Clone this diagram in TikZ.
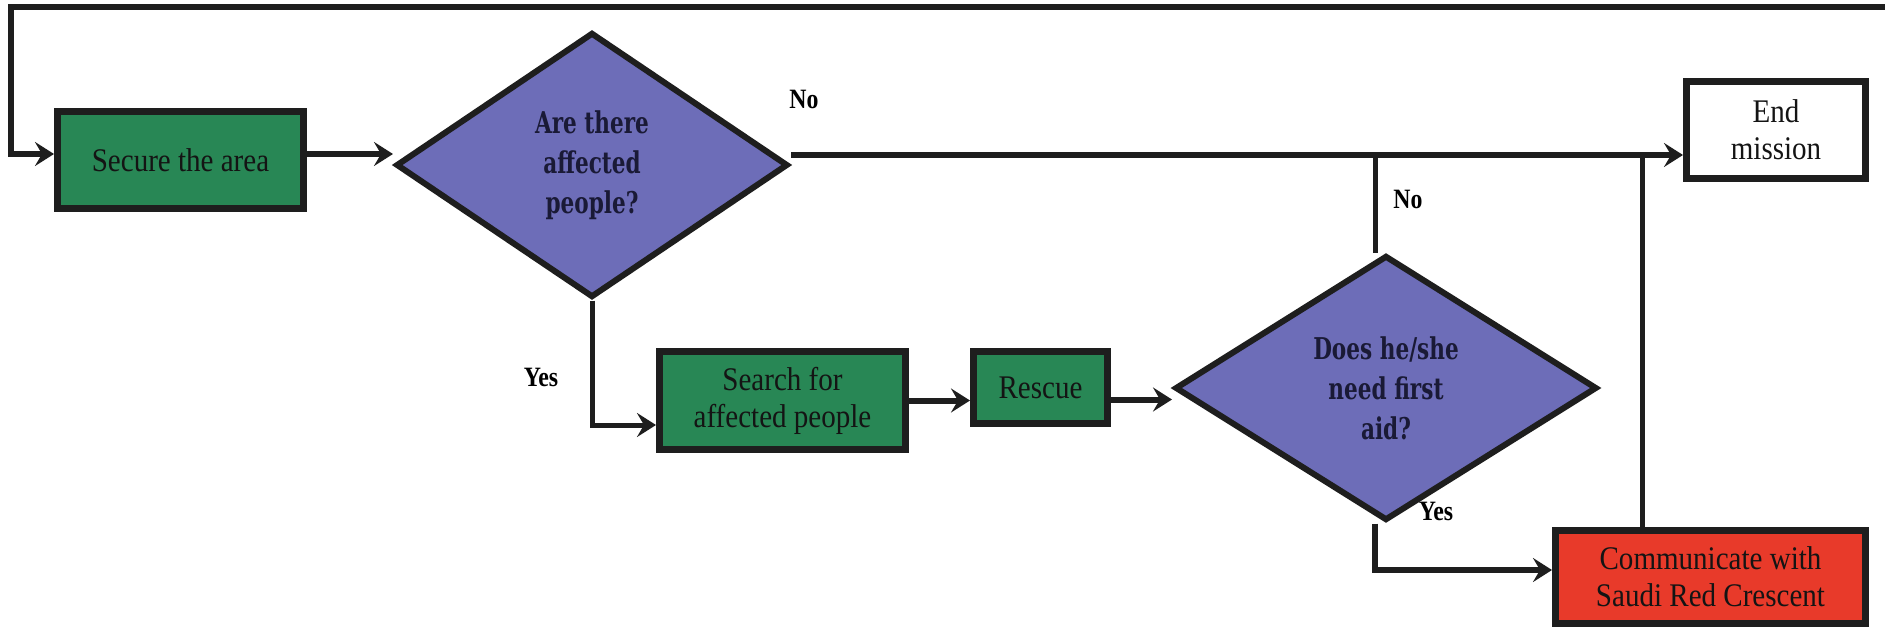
\documentclass[tikz,border=0pt]{standalone}
\usepackage{fontspec}
\setmainfont{Liberation Serif}
\newfontfamily\boxfont{Liberation Serif}[FakeStretch=0.88]
\newfontfamily\qfont{DejaVu Serif}[FakeStretch=0.72]
\newfontfamily\lblfont{Liberation Serif}[FakeStretch=0.85]
\usetikzlibrary{shapes.geometric,arrows.meta,calc}
\definecolor{boxgreen}{HTML}{288755}
\definecolor{dpurple}{HTML}{6D6DB8}
\definecolor{cred}{HTML}{E83A2A}
\definecolor{inkc}{HTML}{141414}
\definecolor{qink}{HTML}{1A1A36}
\definecolor{linec}{HTML}{1E1E1E}
\tikzset{
  procbox/.style={draw=linec, line width=7pt, fill=boxgreen, align=center, inner sep=0pt,
    font={\boxfont\fontsize{33}{37}\selectfont}, text=inkc},
  decision/.style={diamond, draw=linec, line width=6pt, fill=dpurple, align=center, inner sep=0pt,
    font={\qfont\bfseries\fontsize{30}{40}\selectfont}, text=qink},
  flow/.style={line width=6pt, draw=linec, -{Stealth[length=19pt,width=24pt,inset=7pt]}},
  thinflow/.style={line width=5pt, draw=linec, -{Stealth[length=19pt,width=24pt,inset=7pt]}},
  link/.style={line width=6pt, draw=linec},
  thinlink/.style={line width=5pt, draw=linec},
  lbl/.style={font={\lblfont\bfseries\fontsize{28}{30}\selectfont}, text=black, inner sep=0pt},
}
\begin{document}
\begin{tikzpicture}[x=1pt,y=-1pt]
\useasboundingbox (0,0) rectangle (1885,629);
% nodes
\node[procbox, minimum width=246pt, minimum height=97pt] (secure) at (180.5,160) {Secure the area};
\node[decision, minimum width=392pt, minimum height=265pt] (d1) at (592,165) {Are there\\affected\\people?};
\node[procbox, minimum width=246pt, minimum height=98pt] (search) at (782.5,400.5) {Search for\\affected people};
\node[procbox, minimum width=134pt, minimum height=72pt] (rescue) at (1040.5,387.5) {Rescue};
\node[decision, minimum width=422pt, minimum height=265pt] (d2) at (1386,388) {Does he/she\\need first\\aid?};
\node[procbox, fill=white, minimum width=179pt, minimum height=97pt] (endm) at (1776,130) {End\\mission};
\node[procbox, fill=cred, minimum width=310pt, minimum height=93pt] (comm) at (1710.5,577) {Communicate with\\Saudi Red Crescent};
% coordinates
\coordinate (loopR) at (1885,7);
\coordinate (loopL) at (11,7);
\coordinate (junc1) at (1375,155);
\coordinate (junc2) at (1642,155);
% connectors
\draw[flow] (loopR) -- (loopL) |- ([yshift=6pt]secure.west);
\draw[flow] ([yshift=6pt]secure.east) -- ([yshift=6pt]secure.east -| d1.west);
\draw[flow] ([yshift=10pt]d1.east) -- ([yshift=10pt]d1.east -| endm.west);
\draw[thinflow] (d1.south) |- ([yshift=-24.5pt]search.west);
\draw[flow] (search.east) -- (search.east -| rescue.west);
\draw[flow] ([yshift=-12pt]rescue.east) -- ([yshift=-12pt]rescue.east -| d2.west);
\draw[thinlink] (d2.north -| junc1) -- (junc1);
\draw[flow] (d2.south -| junc1) |- ([yshift=7pt]comm.west);
\draw[thinlink] (comm.north -| junc2) -- (junc2);
% labels
\node[lbl] (no1) at (804,99) {No};
\node[lbl] (no2) at (1408,199) {No};
\node[lbl] (yes1) at (541,377) {Yes};
\node[lbl] (yes2) at (1436,511) {Yes};
\end{tikzpicture}
\end{document}
